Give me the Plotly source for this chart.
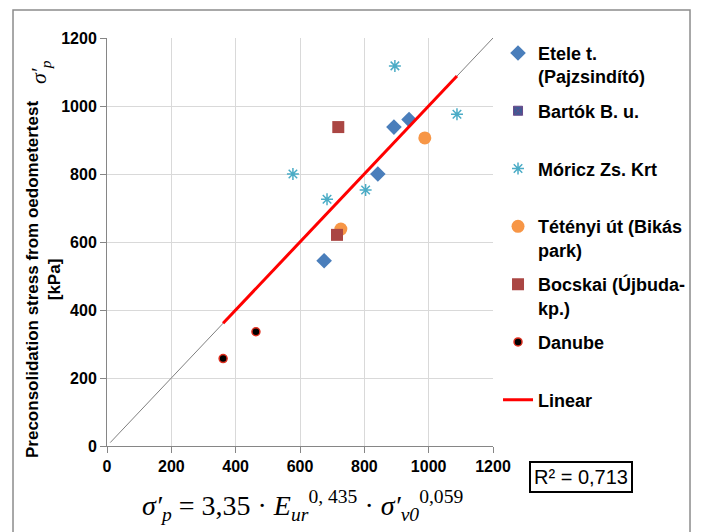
import plotly.graph_objects as go

# ---- data ----
etele_x = [675, 842, 892, 939]
etele_y = [545, 800, 938, 960]
bartok_x = [None]
bartok_y = [None]
moricz_x = [578, 684, 804, 895, 1088]
moricz_y = [800, 726, 753, 1118, 976]
teteny_x = [727, 988]
teteny_y = [638, 906]
bocskai_x = [715, 719]
bocskai_y = [621, 938]
danube_x = [361, 463]
danube_y = [257, 336]
linear_x = [361, 1088]
linear_y = [361, 1088]
oneone_x = [10, 1200]
oneone_y = [10, 1200]
ticks = [0, 200, 400, 600, 800, 1000, 1200]

NB = "\u00a0"
font_main = "'Liberation Sans', Arial, sans-serif"

fig = go.Figure()
fig.add_trace(go.Scatter(x=oneone_x, y=oneone_y, mode="lines", showlegend=False,
                         line=dict(color="#7f7f7f", width=1), hoverinfo="skip"))
fig.add_trace(go.Scatter(x=etele_x, y=etele_y, mode="markers", name="Etele t.<br>(Pajzsindító)",
                         legendgroup="a",
                         marker=dict(symbol="diamond", size=12, color="#4A7EBB")))
fig.add_trace(go.Scatter(x=bartok_x, y=bartok_y, mode="markers", name="Bartók B. u.<br>" + NB,
                         legendgroup="b",
                         marker=dict(symbol="square-x", size=9, color="#3E5B95",
                                     line=dict(color="#6A4A8A", width=1))))
fig.add_trace(go.Scatter(x=moricz_x, y=moricz_y, mode="markers", name="Móricz Zs. Krt<br>" + NB,
                         legendgroup="c",
                         marker=dict(symbol="asterisk-open", size=10, color="#4BACC6",
                                     line=dict(color="#4BACC6", width=1.5))))
fig.add_trace(go.Scatter(x=teteny_x, y=teteny_y, mode="markers", name="Tétényi út (Bikás<br>park)",
                         legendgroup="d",
                         marker=dict(symbol="circle", size=13, color="#F79646")))
fig.add_trace(go.Scatter(x=bocskai_x, y=bocskai_y, mode="markers", name="Bocskai (Újbuda-<br>kp.)",
                         legendgroup="e",
                         marker=dict(symbol="square", size=12, color="#AA4643")))
fig.add_trace(go.Scatter(x=danube_x, y=danube_y, mode="markers", name="Danube<br>" + NB,
                         legendgroup="f",
                         marker=dict(symbol="circle", size=8, color="#000000",
                                     line=dict(color="#E03020", width=1.5))))
fig.add_trace(go.Scatter(x=linear_x, y=linear_y, mode="lines", name="Linear<br>" + NB,
                         legendgroup="g",
                         line=dict(color="#FF0000", width=3)))

axis_common = dict(range=[0, 1200], tickvals=ticks, showgrid=True, gridcolor="#d9d9d9",
                   gridwidth=1, showline=True, linecolor="#868686", linewidth=1,
                   ticks="outside", ticklen=6, tickcolor="#868686", zeroline=False,
                   tickfont=dict(family=font_main, size=16, color="#000000", weight="bold"),
                   fixedrange=True, automargin=False)
fig.update_xaxes(**axis_common)
fig.update_yaxes(**axis_common)

fig.update_layout(
    width=702, height=532,
    margin=dict(l=99, r=217, t=30, b=94, autoexpand=False),
    plot_bgcolor="#ffffff", paper_bgcolor="#ffffff",
    font=dict(family=font_main, color="#000000"),
    legend=dict(x=1.013, y=1.008, xanchor="left", yanchor="top", valign="top",
                font=dict(family=font_main, size=18, color="#000000", weight="bold"),
                tracegroupgap=8, itemwidth=30, bgcolor="rgba(0,0,0,0)", maxheight=520),
    shapes=[dict(type="rect", xref="paper", yref="paper", x0=-0.2435, x1=1.5104,
                 y0=-0.25, y1=1.0686, line=dict(color="#8c8c8c", width=1.5), layer="below")],
    annotations=[
        dict(xref="paper", yref="paper", x=(43 - 107) / 386, y=(446 - 280) / 408,
             text="Preconsolidation stress from oedometertest<br>[kPa]", textangle=-90,
             showarrow=False, font=dict(family=font_main, size=17, weight="bold", color="#000"),
             xanchor="center", yanchor="middle"),
        dict(xref="paper", yref="paper", x=(40 - 107) / 386, y=(446 - 72) / 408,
             text="<i>σ′<sub>p</sub></i>", textangle=-90, showarrow=False,
             font=dict(family="Liberation Serif, serif", size=22, color="#000"),
             xanchor="center", yanchor="middle"),
        dict(xref="paper", yref="paper", x=(302 - 107) / 386, y=(446 - 506) / 408,
             text="<i>σ′<sub>p</sub></i> = 3,35 · <i>E<sub>ur</sub></i><sup>0, 435</sup> · <i>σ′<sub>v0</sub></i><sup>0,059</sup>",
             showarrow=False, font=dict(family="Liberation Serif, serif", size=28, color="#000"),
             xanchor="center", yanchor="middle"),
        dict(xref="paper", yref="paper", x=(581 - 107) / 386, y=(446 - 477) / 408,
             text="R² = 0,713", showarrow=False, bordercolor="#000000", borderwidth=2,
             borderpad=3, bgcolor="#ffffff",
             font=dict(family=font_main, size=20, color="#000"),
             xanchor="center", yanchor="middle"),
    ],
)

fig.write_html("out.html")
